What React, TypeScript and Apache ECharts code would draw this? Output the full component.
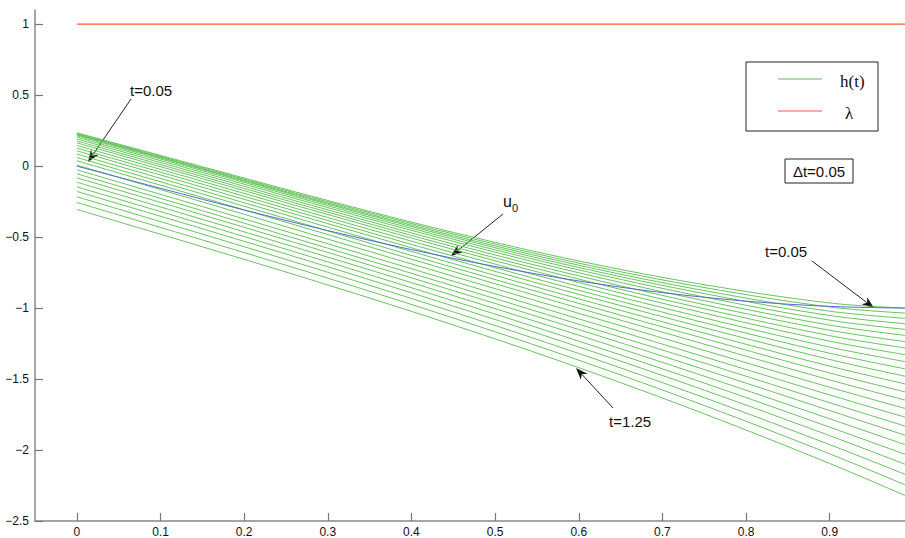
import React, { useEffect, useRef } from 'react';
import * as echarts from 'echarts';

// x positions at which the h(t) curves were read
const hX = [0, 0.15, 0.3, 0.45, 0.6, 0.75, 0.9, 0.99];

// h(t) curves, t = 0.05 ... 1.25 (Δt = 0.05), values read at hX
const h005 = [0.235, -0.004, -0.242, -0.467, -0.668, -0.835, -0.964, -1.0];
const h010 = [0.230, -0.011, -0.251, -0.478, -0.683, -0.855, -0.992, -1.035];
const h015 = [0.225, -0.018, -0.260, -0.490, -0.698, -0.877, -1.022, -1.072];
const h020 = [0.221, -0.023, -0.268, -0.501, -0.714, -0.898, -1.052, -1.110];
const h025 = [0.214, -0.032, -0.279, -0.515, -0.731, -0.922, -1.085, -1.150];
const h030 = [0.204, -0.044, -0.292, -0.530, -0.751, -0.948, -1.120, -1.192];
const h035 = [0.192, -0.058, -0.308, -0.549, -0.773, -0.976, -1.156, -1.236];
const h040 = [0.178, -0.073, -0.324, -0.568, -0.796, -1.005, -1.194, -1.281];
const h045 = [0.164, -0.088, -0.341, -0.587, -0.820, -1.035, -1.233, -1.328];
const h050 = [0.146, -0.107, -0.362, -0.610, -0.847, -1.069, -1.275, -1.377];
const h055 = [0.127, -0.127, -0.383, -0.634, -0.875, -1.103, -1.318, -1.428];
const h060 = [0.108, -0.148, -0.405, -0.659, -0.903, -1.138, -1.362, -1.480];
const h065 = [0.085, -0.172, -0.430, -0.686, -0.935, -1.176, -1.409, -1.534];
const h070 = [0.061, -0.196, -0.456, -0.714, -0.967, -1.214, -1.457, -1.590];
const h075 = [0.038, -0.221, -0.482, -0.742, -1.000, -1.254, -1.506, -1.648];
const h080 = [0.007, -0.252, -0.514, -0.776, -1.037, -1.298, -1.558, -1.707];
const h085 = [-0.026, -0.285, -0.547, -0.811, -1.076, -1.343, -1.612, -1.768];
const h090 = [-0.054, -0.314, -0.578, -0.844, -1.114, -1.387, -1.667, -1.831];
const h095 = [-0.082, -0.343, -0.608, -0.877, -1.151, -1.433, -1.722, -1.896];
const h100 = [-0.113, -0.375, -0.641, -0.912, -1.191, -1.480, -1.780, -1.962];
const h105 = [-0.146, -0.408, -0.675, -0.949, -1.233, -1.528, -1.839, -2.030];
const h110 = [-0.178, -0.441, -0.709, -0.986, -1.274, -1.578, -1.899, -2.100];
const h115 = [-0.216, -0.479, -0.748, -1.027, -1.320, -1.631, -1.962, -2.171];
const h120 = [-0.256, -0.520, -0.789, -1.070, -1.367, -1.686, -2.027, -2.245];
const h125 = [-0.305, -0.568, -0.837, -1.119, -1.420, -1.745, -2.095, -2.320];

const hCurves = [
  h005, h010, h015, h020, h025, h030, h035, h040, h045, h050, h055, h060, h065,
  h070, h075, h080, h085, h090, h095, h100, h105, h110, h115, h120, h125,
];

// initial profile u0
const u0X = [0, 0.1, 0.2, 0.3, 0.4, 0.5, 0.6, 0.7, 0.8, 0.9, 0.99];
const u0Y = [0, -0.156, -0.309, -0.454, -0.588, -0.707, -0.809, -0.891, -0.951, -0.988, -1.0];

// lambda level
const lambdaX = [0, 0.99];
const lambdaY = [1, 1];

// tick labels
const xTicks = [0, 0.1, 0.2, 0.3, 0.4, 0.5, 0.6, 0.7, 0.8, 0.9];
const yTicks = [-2.5, -2, -1.5, -1, -0.5, 0, 0.5, 1];

const GREEN = '#55bd4a';
const RED = '#ff5a3a';
const BLUE = '#5566dd';
const SANS = 'Liberation Sans, Arial, Helvetica, sans-serif';
const SERIF = 'Liberation Serif, Times New Roman, serif';

function fmt(v: number) {
  return String(v).replace('-', '\u2212');
}

function arrow(x1: number, y1: number, x2: number, y2: number): any[] {
  const dx = x2 - x1;
  const dy = y2 - y1;
  const L = Math.hypot(dx, dy);
  const ux = dx / L;
  const uy = dy / L;
  const hl = 12;
  const hw = 4.5;
  const bx = x2 - ux * hl;
  const by = y2 - uy * hl;
  const px = -uy;
  const py = ux;
  return [
    {
      type: 'line',
      silent: true,
      shape: { x1, y1, x2: bx + ux * 3, y2: by + uy * 3 },
      style: { stroke: '#222', lineWidth: 1 },
    },
    {
      type: 'polygon',
      silent: true,
      shape: {
        points: [
          [x2, y2],
          [bx + px * hw, by + py * hw],
          [bx + ux * 3.5, by + uy * 3.5],
          [bx - px * hw, by - py * hw],
        ],
      },
      style: { fill: '#111' },
    },
  ];
}

function txt(x: number, y: number, text: string, size: number, family = SANS, align = 'left'): any {
  return {
    type: 'text',
    silent: true,
    x,
    y,
    style: {
      text,
      fontSize: size,
      fontFamily: family,
      fill: '#111',
      align,
      verticalAlign: 'middle',
    },
  };
}

export default function App() {
  const ref = useRef<HTMLDivElement>(null);

  useEffect(() => {
    if (!ref.current) return;
    const chart = echarts.init(ref.current, undefined, { renderer: 'svg' });

    const series: any[] = hCurves.map((c) => ({
      name: 'h(t)',
      type: 'line',
      data: c.map((v, j) => [hX[j], v]),
      showSymbol: false,
      symbol: 'none',
      smooth: 0.35,
      silent: true,
      z: 2,
      lineStyle: { color: GREEN, width: 0.9 },
    }));
    series.push({
      name: 'u0',
      type: 'line',
      data: u0Y.map((v, j) => [u0X[j], v]),
      showSymbol: false,
      symbol: 'none',
      smooth: 0.35,
      silent: true,
      z: 3,
      lineStyle: { color: BLUE, width: 1 },
    });
    series.push({
      name: 'λ',
      type: 'line',
      data: lambdaY.map((v, j) => [lambdaX[j], v]),
      showSymbol: false,
      symbol: 'none',
      silent: true,
      lineStyle: { color: RED, width: 1.2 },
    });

    const graphic: any[] = [
      // legend box
      {
        type: 'rect',
        silent: true,
        shape: { x: 746, y: 62, width: 132, height: 69 },
        style: { fill: '#fff', stroke: '#222', lineWidth: 1 },
      },
      {
        type: 'line',
        silent: true,
        shape: { x1: 778, y1: 79, x2: 822, y2: 79 },
        style: { stroke: GREEN, lineWidth: 1 },
      },
      {
        type: 'line',
        silent: true,
        shape: { x1: 778, y1: 111, x2: 822, y2: 111 },
        style: { stroke: RED, lineWidth: 1.2 },
      },
      txt(840, 81, 'h(t)', 17, SERIF),
      txt(845, 113, 'λ', 17, SERIF),
      // Δt box
      {
        type: 'rect',
        silent: true,
        shape: { x: 785, y: 159, width: 68, height: 24 },
        style: { fill: '#fff', stroke: '#222', lineWidth: 1 },
      },
      txt(819, 171, 'Δt=0.05', 15, SANS, 'center'),
      // annotations
      txt(130, 90, 't=0.05', 15),
      ...arrow(131, 99, 88, 162),
      txt(503, 201, 'u', 16),
      txt(512, 208, '0', 11),
      ...arrow(503, 214, 451, 256),
      txt(765, 251, 't=0.05', 15),
      ...arrow(812, 261, 874, 308),
      txt(609, 421, 't=1.25', 15),
      ...arrow(613, 408, 576, 368),
    ];

    chart.setOption({
      animation: false,
      backgroundColor: '#fff',
      grid: { left: 35, right: 0, top: 10, bottom: 17, containLabel: false },
      xAxis: {
        type: 'value',
        min: -0.05,
        max: 0.99,
        splitLine: { show: false },
        axisLine: { show: true, onZero: false, lineStyle: { color: '#888', width: 1.5 } },
        axisTick: {
          show: true,
          inside: true,
          length: 8,
          customValues: xTicks,
          lineStyle: { color: '#777', width: 1.2 },
        },
        axisLabel: {
          customValues: xTicks,
          formatter: fmt,
          color: '#111',
          fontSize: 12,
          fontFamily: SANS,
          margin: 5,
        },
      },
      yAxis: {
        type: 'value',
        min: -2.5,
        max: 1.1,
        splitLine: { show: false },
        axisLine: { show: true, onZero: false, lineStyle: { color: '#888', width: 1.5 } },
        axisTick: {
          show: true,
          inside: true,
          length: 8,
          customValues: yTicks,
          lineStyle: { color: '#777', width: 1.2 },
        },
        axisLabel: {
          customValues: yTicks,
          formatter: fmt,
          color: '#111',
          fontSize: 12,
          fontFamily: SANS,
          margin: 6,
        },
      },
      series,
      graphic,
    });

    return () => {
      chart.dispose();
    };
  }, []);

  return (
    <div
      ref={ref}
      style={{ position: 'fixed', left: 0, top: 0, width: 905, height: 538, background: '#fff' }}
    />
  );
}
